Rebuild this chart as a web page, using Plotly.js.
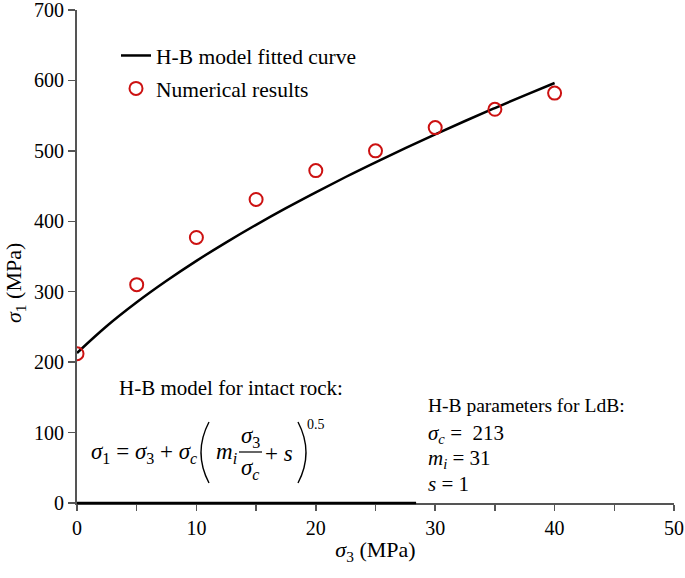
<!DOCTYPE html>
<html><head><meta charset="utf-8">
<script src="https://cdn.plot.ly/plotly-3.0.1.min.js"></script>
<style>html,body{margin:0;padding:0;background:#fff}#c{width:685px;height:578px}</style>
</head><body><div id="c"></div>
<script>
// fitted curve
const curveX = [0,2.5,5,7.5,10,12.5,15,17.5,20,22.5,25,27.5,30,32.5,35,37.5,40];
const curveY = [213,251.3,285,315.5,343.8,370.1,395,418.7,441.2,462.9,483.7,503.9,523.4,542.4,560.8,578.8,596.3];
// numerical results
const numX = [0,5,10,15,20,25,30,35,40];
const numY = [212,310,377,431,472,500,533,559,582];
const xTickVals = [0,10,20,30,40,50];
const yTickVals = [0,100,200,300,400,500,600,700];

const F = 'Liberation Serif';
const L = 77, T = 10, W = 597, H = 493;
const px = v => (v - L) / W;
const py = v => (T + H - v) / H;

function ann(text, x, y, size) {
  return {text: text, xref: 'paper', yref: 'paper', x: px(x), y: py(y),
    xanchor: 'left', yanchor: 'middle', showarrow: false,
    font: {family: F, size: size || 18, color: '#000'}};
}
function paren(x0, xc, y0, y1) {
  const ym = (y0 + y1) / 2;
  return {type: 'path', xref: 'paper', yref: 'paper',
    path: 'M ' + px(x0) + ',' + py(y0) + ' Q ' + px(xc) + ',' + py(ym) + ' ' + px(x0) + ',' + py(y1),
    line: {color: '#000', width: 1.4}};
}

const traces = [
  {x: curveX, y: curveY, type: 'scatter', mode: 'lines', line: {color: '#000', width: 2.5, shape: 'spline'},
   name: 'H-B model fitted curve', legendgroup: 'a'},
  {x: numX, y: numY, type: 'scatter', mode: 'markers', name: 'Numerical results', legendgroup: 'b',
   marker: {symbol: 'circle-open', size: 13, color: '#cc1111', line: {width: 2, color: '#cc1111'}}}
];

const yTitle = ann('<i>σ</i><sub>1</sub> (MPa)', 15, 283, 22);
yTitle.xanchor = 'center';
yTitle.textangle = -90;

const annotations = [
  yTitle,
  ann('H-B model for intact rock:', 117, 388, 21),
  ann('<i>σ</i><sub>1</sub> = <i>σ</i><sub>3</sub> + <i>σ</i><sub><i>c</i></sub>', 89, 453, 23),
  ann('<i>m</i><sub><i>i</i></sub>', 214, 453, 23),
  ann('<i>σ</i><sub>3</sub>', 239, 437, 23),
  ann('<i>σ</i><sub><i>c</i></sub>', 239, 469, 23),
  ann('+ <i>s</i>', 263, 453, 23),
  ann('0.5', 305, 424, 14),
  ann('H-B parameters for LdB:', 426, 406, 19.5),
  ann('<i>σ</i><sub><i>c</i></sub> =  213', 426, 434, 21),
  ann('<i>m</i><sub><i>i</i></sub> = 31', 426, 459, 21),
  ann('<i>s</i> = 1', 426, 484, 21)
];

const shapes = [
  {type: 'line', xref: 'paper', yref: 'paper', x0: px(239), x1: px(262), y0: py(452), y1: py(452),
   line: {color: '#000', width: 1.2}},
  paren(209, 193, 422, 483),
  paren(298, 314, 422, 483),
  {type: 'line', xref: 'x', yref: 'paper', x0: 0, x1: 28.4, y0: 0, y1: 0,
   line: {color: '#000', width: 2.5}}
];

const layout = {
  width: 685, height: 578,
  margin: {l: L, r: 685 - L - W, t: T, b: 578 - T - H},
  paper_bgcolor: '#fff', plot_bgcolor: '#fff',
  font: {family: F, size: 20, color: '#000'},
  showlegend: true,
  legend: {x: px(116), y: py(35), xanchor: 'left', yanchor: 'top', bgcolor: 'rgba(0,0,0,0)',
    font: {family: F, size: 21.5, color: '#000'}, itemwidth: 30, tracegroupgap: 2},
  xaxis: {range: [0, 50], tickmode: 'array', tickvals: xTickVals, ticktext: xTickVals.map(String),
    ticklabeloverflow: 'allow',
    showgrid: false, zeroline: false, showline: true, linecolor: '#555', linewidth: 2,
    ticks: 'outside', ticklen: 6, tickwidth: 1.5, tickcolor: '#555',
    minor: {tickmode: 'linear', tick0: 0, dtick: 5, ticks: 'outside', ticklen: 6, tickwidth: 1.5, tickcolor: '#555', showgrid: false},
    tickfont: {family: F, size: 20, color: '#000'},
    title: {text: '<i>σ</i><sub>3</sub> (MPa)', font: {family: F, size: 22, color: '#000'}, standoff: 4}},
  yaxis: {range: [0, 700], tickvals: yTickVals, ticktext: yTickVals.map(String), ticklabeloverflow: 'allow',
    showgrid: false, zeroline: false, showline: true, linecolor: '#555', linewidth: 2,
    ticks: 'outside', ticklen: 7, tickwidth: 1.5, tickcolor: '#555',
    tickfont: {family: F, size: 20, color: '#000'}},
  annotations: annotations,
  shapes: shapes
};

Plotly.newPlot('c', traces, layout, {displayModeBar: false, staticPlot: true});
</script>
</body></html>
